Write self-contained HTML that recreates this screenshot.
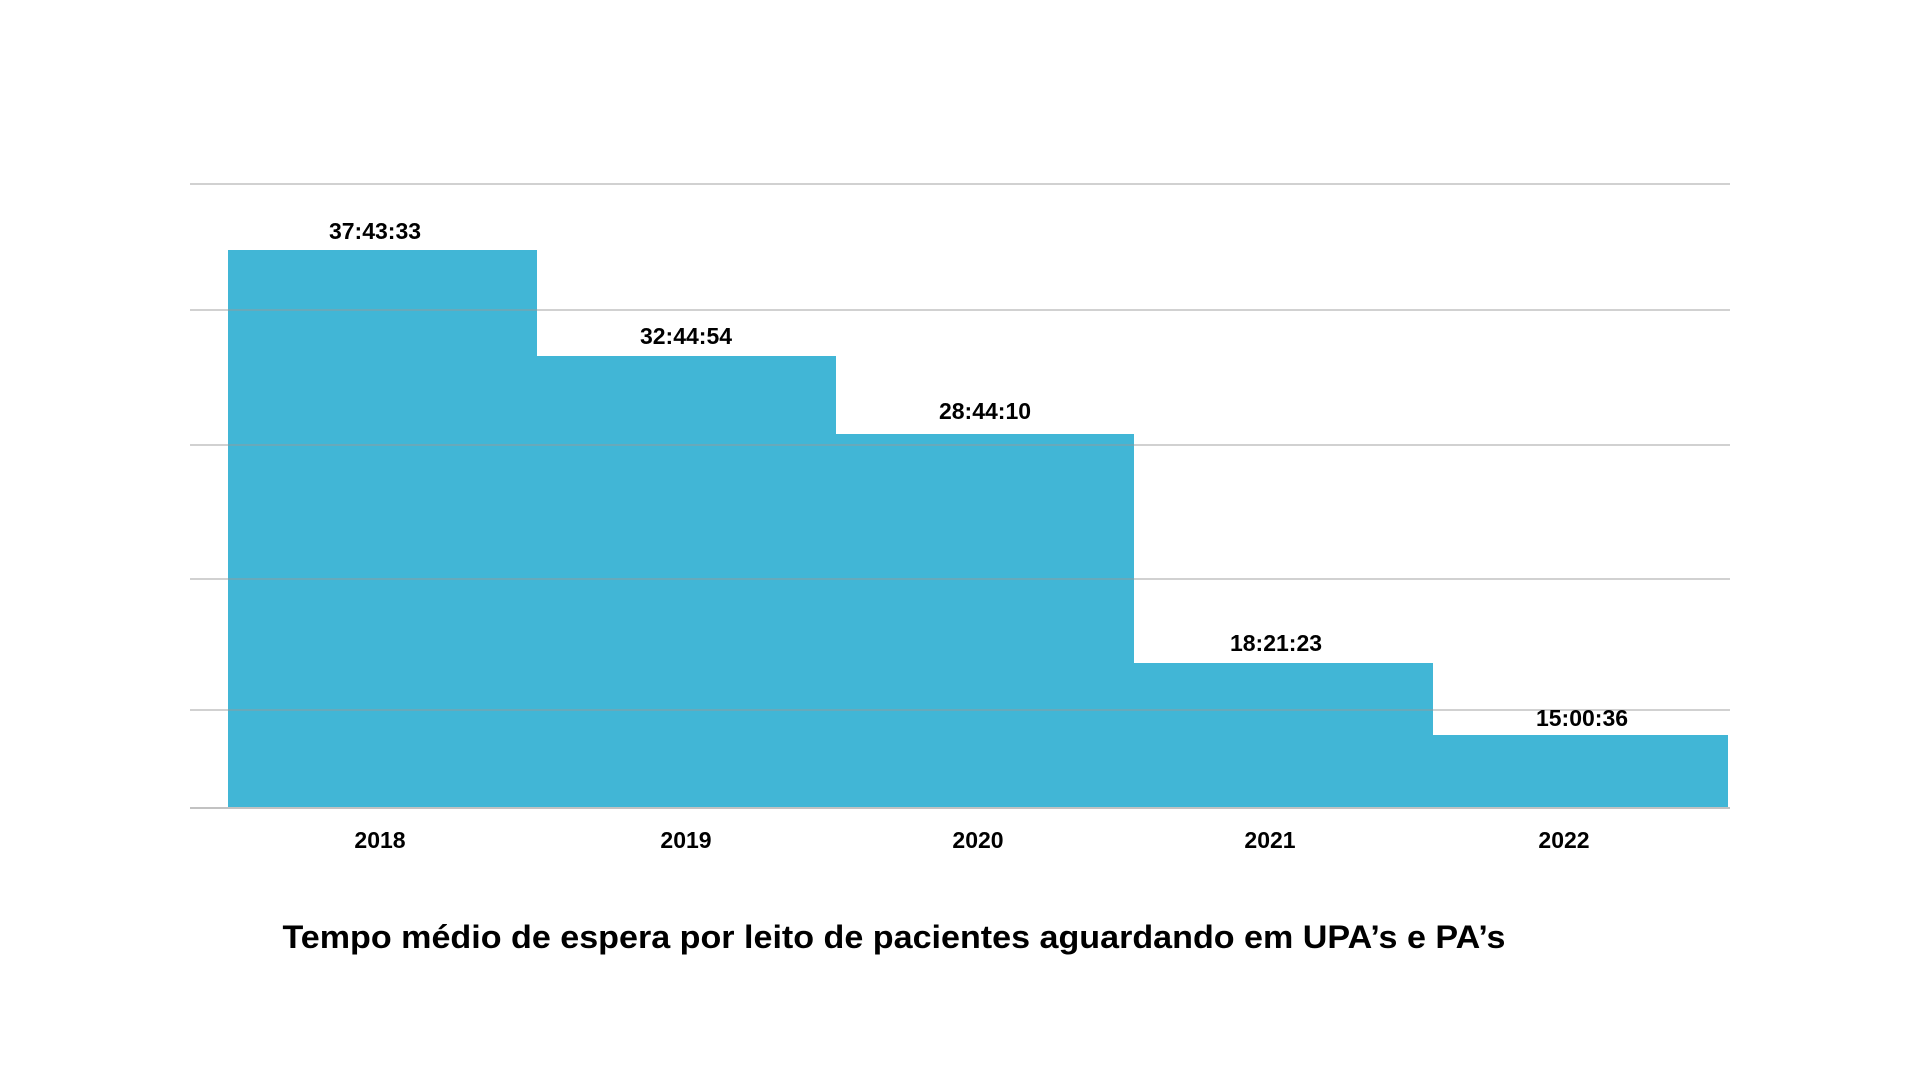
<!DOCTYPE html>
<html><head><meta charset="utf-8"><style>
body{margin:0;background:#fff;}
svg{display:block}
text{font-family:"Liberation Sans",sans-serif;font-weight:bold;fill:#000}
</style></head><body>
<svg width="1920" height="1080" viewBox="0 0 1920 1080">
<rect width="1920" height="1080" fill="#fff"/>
<g fill="#41b6d6">
<rect x="228" y="250" width="309" height="557"/>
<rect x="536" y="356" width="300" height="451"/>
<rect x="835" y="434" width="299" height="373"/>
<rect x="1133" y="663" width="300" height="144"/>
<rect x="1432" y="735" width="296" height="72"/>
</g>
<g stroke="#9a9a9a" stroke-opacity="0.6" stroke-width="1.5">
<line x1="190" y1="184" x2="1730" y2="184"/>
<line x1="190" y1="310" x2="1730" y2="310"/>
<line x1="190" y1="445" x2="1730" y2="445"/>
<line x1="190" y1="579" x2="1730" y2="579"/>
<line x1="190" y1="710" x2="1730" y2="710"/>
<line x1="190" y1="808" x2="1730" y2="808" stroke-width="2"/>
</g>
<g font-size="23" text-anchor="middle">
<text x="375" y="239">37:43:33</text>
<text x="686" y="344">32:44:54</text>
<text x="985" y="419">28:44:10</text>
<text x="1276" y="651">18:21:23</text>
<text x="1582" y="726">15:00:36</text>
<text x="380" y="848">2018</text>
<text x="686" y="848">2019</text>
<text x="978" y="848">2020</text>
<text x="1270" y="848">2021</text>
<text x="1564" y="848">2022</text>
</g>
<text x="894" y="948" font-size="32" text-anchor="middle" textLength="1223" lengthAdjust="spacingAndGlyphs">Tempo médio de espera por leito de pacientes aguardando em UPA’s e PA’s</text>
</svg>
</body></html>
